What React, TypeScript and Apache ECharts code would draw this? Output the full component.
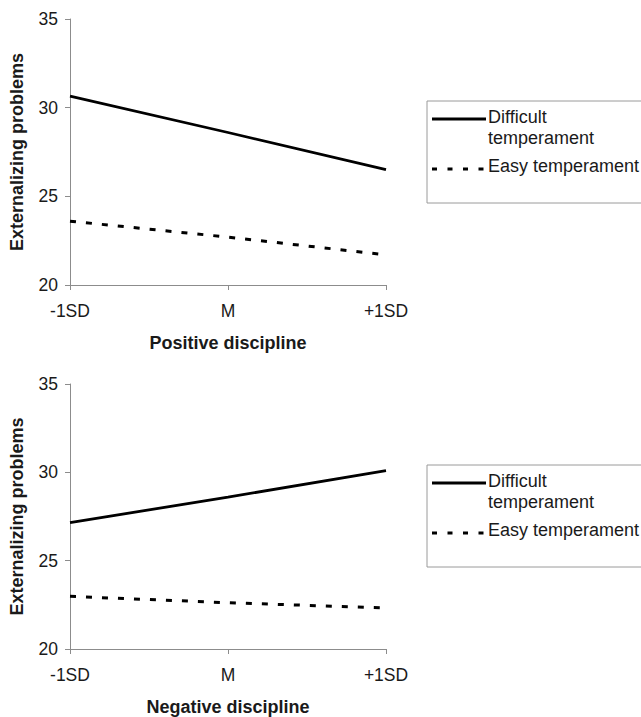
import React, { useEffect, useRef } from "react";
import * as echarts from "echarts";

const categories = ["-1SD", "M", "+1SD"];
const yTicks = { min: 20, max: 35, interval: 5 };

const positiveDifficult = [30.65, 28.6, 26.5];
const positiveEasy = [23.6, 22.7, 21.7];
const negativeDifficult = [27.15, 28.6, 30.1];
const negativeEasy = [22.98, 22.62, 22.32];

const seriesNames = ["Difficult\ntemperament", "Easy temperament"];
const xTitles = ["Positive discipline", "Negative discipline"];
const yTitle = "Externalizing problems";

const FONT = "'Liberation Sans', Arial, sans-serif";
const AXIS_COLOR = "#8c8c8c";
const TEXT_COLOR = "#1a1a1a";

export default function App() {
  const ref = useRef<HTMLDivElement>(null);

  useEffect(() => {
    if (!ref.current) return;
    const chart = echarts.init(ref.current, undefined, { renderer: "svg" });

    const grids = [
      { left: 70, top: 19, width: 316, height: 266 },
      { left: 70, top: 384, width: 316, height: 267 },
    ];

    const xAxis = grids.map((_, i) => ({
      type: "category",
      gridIndex: i,
      data: categories,
      boundaryGap: false,
      axisLine: { show: true, lineStyle: { color: AXIS_COLOR, width: 1 } },
      axisTick: { show: true, length: 5, lineStyle: { color: AXIS_COLOR } },
      axisLabel: { color: TEXT_COLOR, fontFamily: FONT, fontSize: 17.5, margin: 17 },
      splitLine: { show: false },
      name: xTitles[i],
      nameLocation: "middle",
      nameGap: 49,
      nameTextStyle: { color: TEXT_COLOR, fontFamily: FONT, fontSize: 18, fontWeight: "bold" },
    }));

    const yAxis = grids.map((_, i) => ({
      type: "value",
      gridIndex: i,
      min: yTicks.min,
      max: yTicks.max,
      interval: yTicks.interval,
      axisLine: { show: true, lineStyle: { color: AXIS_COLOR, width: 1 } },
      axisTick: { show: true, length: 5, lineStyle: { color: AXIS_COLOR } },
      axisLabel: { color: TEXT_COLOR, fontFamily: FONT, fontSize: 17.5, margin: 12 },
      splitLine: { show: false },
      name: yTitle,
      nameLocation: "middle",
      nameGap: 44,
      nameRotate: 90,
      nameTextStyle: { color: TEXT_COLOR, fontFamily: FONT, fontSize: 18, fontWeight: "bold" },
    }));

    const data = [
      [positiveDifficult, positiveEasy],
      [negativeDifficult, negativeEasy],
    ];

    const series: any[] = [];
    data.forEach((pair, gi) => {
      series.push({
        type: "line",
        name: seriesNames[0],
        xAxisIndex: gi,
        yAxisIndex: gi,
        data: pair[0],
        symbol: "none",
        lineStyle: { color: "#000", width: 2.8, type: "solid" },
      });
      series.push({
        type: "line",
        name: seriesNames[1],
        xAxisIndex: gi,
        yAxisIndex: gi,
        data: pair[1],
        symbol: "none",
        lineStyle: { color: "#000", width: 3, type: [6, 10] },
      });
    });

    const legendTops = [101, 465];
    const graphic: any[] = [];
    legendTops.forEach((t) => {
      graphic.push({
        type: "rect",
        shape: { x: 427, y: t, width: 260, height: 102 },
        style: { fill: "#fff", stroke: "#9a9a9a", lineWidth: 1 },
        z: 10,
      });
      graphic.push({
        type: "line",
        shape: { x1: 432, y1: t + 18, x2: 486, y2: t + 18 },
        style: { stroke: "#000", lineWidth: 2.8 },
        z: 11,
      });
      graphic.push({
        type: "line",
        shape: { x1: 432, y1: t + 68, x2: 486, y2: t + 68 },
        style: { stroke: "#000", lineWidth: 3, lineDash: [5, 10.5] },
        z: 11,
      });
      graphic.push({
        type: "text",
        x: 488,
        y: t + 5,
        style: {
          text: seriesNames[0],
          font: `18px ${FONT}`,
          fill: TEXT_COLOR,
          lineHeight: 21,
          verticalAlign: "top",
        },
        z: 11,
      });
      graphic.push({
        type: "text",
        x: 488,
        y: t + 56,
        style: {
          text: seriesNames[1],
          font: `18px ${FONT}`,
          fill: TEXT_COLOR,
          verticalAlign: "top",
        },
        z: 11,
      });
    });

    chart.setOption({
      animation: false,
      backgroundColor: "#fff",
      grid: grids,
      xAxis,
      yAxis,
      series,
      graphic,
    });

    return () => chart.dispose();
  }, []);

  return (
    <div
      ref={ref}
      style={{ position: "absolute", left: 0, top: 0, width: 641, height: 717 }}
    />
  );
}
